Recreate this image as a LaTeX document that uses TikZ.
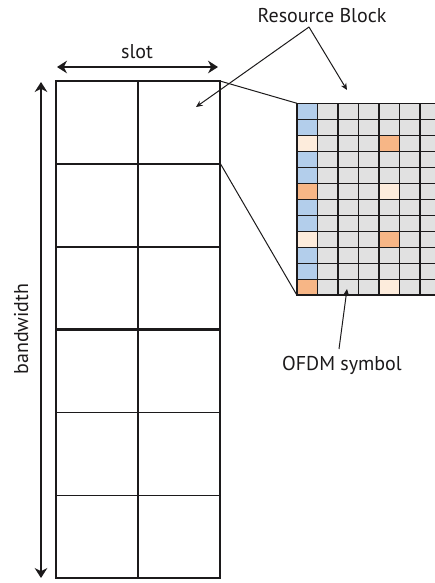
\documentclass[tikz,border=0pt]{standalone}
\usepackage{fontspec}
\setmainfont{PT Sans}
\usepackage{xcolor}
\usetikzlibrary{arrows.meta, positioning}

\definecolor{re}{HTML}{E1E1E1}
\definecolor{pilot}{HTML}{B3CEEB}
\definecolor{dmrs}{HTML}{F7B686}
\definecolor{ptrs}{HTML}{FDECDC}
\definecolor{ink}{HTML}{1C1A1B}

\begin{document}
\begin{tikzpicture}[x=0.75pt,y=-0.75pt,>={Stealth[length=7.5pt,width=9.5pt]},
    font=\fontsize{15}{18}\selectfont, text=ink,
    frame/.style={draw=ink,line width=2.1pt},
    rowline/.style={draw=ink,line width=1.8pt},
    thinrow/.style={draw=ink,line width=0.85pt},
    span/.style={<->,draw=ink,line width=2.1pt},
    pointer/.style={->,draw=ink,line width=0.75pt,>={Stealth[length=5pt,width=4.5pt]}},
    cell/.style={draw=ink,line width=1pt}]
  \useasboundingbox (0,0) rectangle (435,583);

  % labels
  \node[anchor=base] (slot) at (137,58) {slot};
  \node[anchor=base,rotate=90] (bw) at (28,329) {bandwidth};
  \node[anchor=base] (rb) at (322,22) {Resource Block};
  \node[anchor=base] (ofdm) at (342,370) {OFDM symbol};

  % corners used by the connectors
  \coordinate (blkNE) at (220,81);
  \coordinate (blkSE) at (220,163);
  \coordinate (rbNW) at (297,103.3);
  \coordinate (rbSW) at (297,295.3);
  \coordinate (rbfoot) at (309,27);
  \coordinate (rbleft) at (196,107);
  \coordinate (rbright) at (347,90);
  \coordinate (symtail) at (339,349);
  \coordinate (symtip) at (347,289);

  % slots x bandwidth
  \foreach \y in {163.8,246.7,329.5}
    \draw[rowline] (56,\y) -- (220,\y);
  \foreach \y in {412.3,495.2}
    \draw[thinrow] (56,\y) -- (220,\y);
  \draw[frame] (138,81) -- (138,578);
  \draw[frame] (56,81) rectangle (220,578);

  \draw[span] (57,67) -- (218,67);
  \draw[span] (41,82) -- (41,578);

  % zoom onto one resource block
  \draw[draw=ink,line width=0.75pt] (blkNE) -- (rbNW);
  \draw[draw=ink,line width=0.75pt] (blkSE) -- (rbSW);

  \begin{scope}
    \clip (290,95) rectangle (435,300);
    \foreach \c in {0,...,6}
      \foreach \r in {0,...,11}
        \fill[re] (297+\c*20.5,103.3+\r*16) rectangle ++(20.5,16);
    \foreach \r/\tone in {0/pilot,1/pilot,2/ptrs,3/pilot,4/pilot,5/dmrs,
                          6/pilot,7/pilot,8/ptrs,9/pilot,10/pilot,11/dmrs}
      \fill[\tone] (297,103.3+\r*16) rectangle ++(20.5,16);
    \foreach \r/\tone in {2/dmrs,5/ptrs,8/dmrs,11/ptrs}
      \fill[\tone] (379,103.3+\r*16) rectangle ++(20.5,16);
    \foreach \c in {1,...,7}
      \draw[cell] (297+\c*20.5,103.3) -- ++(0,192);
    \foreach \r in {0,...,11}
      \draw[cell] (297,103.3+\r*16) -- ++(145,0);
    \draw[frame,line width=1.5pt] (rbNW) -- (rbSW) -- ++(145,0);
  \end{scope}

  % pointers
  \draw[pointer] (rbfoot) -- (rbleft);
  \draw[pointer] (rbfoot) -- (rbright);
  \draw[pointer] (symtail) -- (symtip);
\end{tikzpicture}
\end{document}
